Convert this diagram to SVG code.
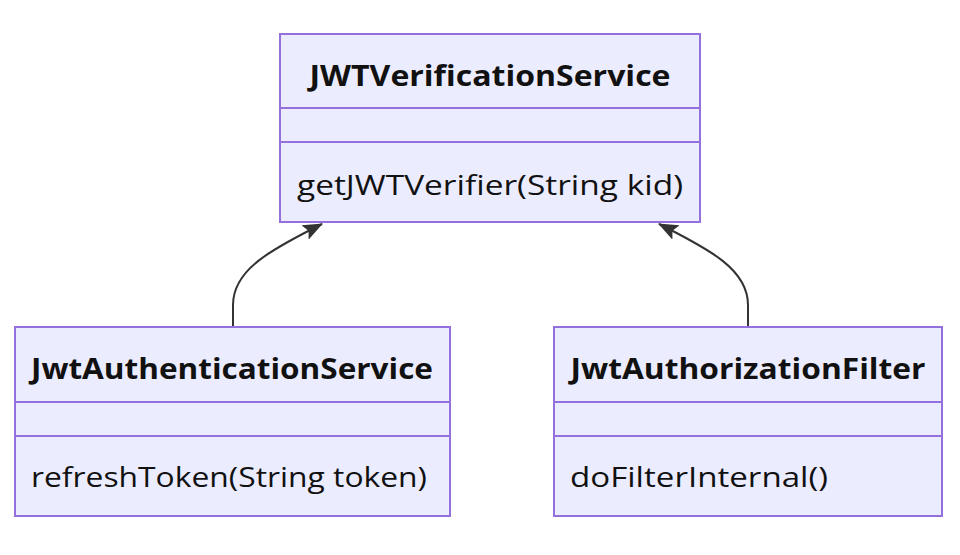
<svg xmlns="http://www.w3.org/2000/svg" width="960" height="555" viewBox="0 0 960 555">
<defs>
<style>
.box{fill:#ECECFF;stroke:#9370DB;stroke-width:2}
.div{stroke:#9370DB;stroke-width:2}
.title{font-family:"Open Sans","Liberation Sans",sans-serif;font-weight:bold;font-size:28px;fill:#111111}
.mem{font-family:"Open Sans","Liberation Sans",sans-serif;font-size:28px;fill:#111111}
.edge{fill:none;stroke:#333333;stroke-width:2}
</style>
<marker id="arrow" viewBox="0 0 20 16" refX="19" refY="8" markerWidth="20" markerHeight="16" markerUnits="userSpaceOnUse" orient="auto">
<path d="M0,0 L20,8 L0,16 L4,8 Z" fill="#333333"/>
</marker>
</defs>
<rect width="960" height="555" fill="#ffffff"/>
<g id="edges">
<path class="edge" d="M233,326 L233,305 C233,270 270,250 322,224" marker-end="url(#arrow)"/>
<path class="edge" d="M748,326 L748,305 C748,270 711,250 659,224" marker-end="url(#arrow)"/>
</g>
<g id="JWTVerificationService">
<rect class="box" x="280" y="34" width="420" height="188"/>
<line class="div" x1="280" y1="108" x2="700" y2="108"/>
<line class="div" x1="280" y1="142" x2="700" y2="142"/>
<text class="title" x="490" y="86" text-anchor="middle" textLength="361" lengthAdjust="spacingAndGlyphs">JWTVerificationService</text>
<text class="mem" x="297" y="195" textLength="386" lengthAdjust="spacingAndGlyphs">getJWTVerifier(String kid)</text>
</g>
<g id="JwtAuthenticationService">
<rect class="box" x="15" y="327" width="435" height="189"/>
<line class="div" x1="15" y1="402" x2="450" y2="402"/>
<line class="div" x1="15" y1="436" x2="450" y2="436"/>
<text class="title" x="232" y="379" text-anchor="middle" textLength="402" lengthAdjust="spacingAndGlyphs">JwtAuthenticationService</text>
<text class="mem" x="31" y="487" textLength="396" lengthAdjust="spacingAndGlyphs">refreshToken(String token)</text>
</g>
<g id="JwtAuthorizationFilter">
<rect class="box" x="554" y="327" width="388" height="189"/>
<line class="div" x1="554" y1="402" x2="942" y2="402"/>
<line class="div" x1="554" y1="436" x2="942" y2="436"/>
<text class="title" x="748" y="379" text-anchor="middle" textLength="355" lengthAdjust="spacingAndGlyphs">JwtAuthorizationFilter</text>
<text class="mem" x="570" y="487" textLength="258" lengthAdjust="spacingAndGlyphs">doFilterInternal()</text>
</g>
</svg>
